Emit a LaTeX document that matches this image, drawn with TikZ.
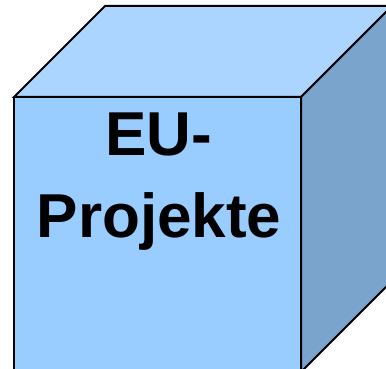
\documentclass[tikz,border=0pt]{standalone}
\usepackage{fontspec}
\setmainfont{Liberation Sans}
\definecolor{topc}{HTML}{ABD5FF}
\definecolor{frontc}{HTML}{99CCFF}
\definecolor{sidec}{HTML}{7BA4CC}
\begin{document}
\begin{tikzpicture}[x=1pt,y=-1pt,
  face/.style={draw=black,line width=2pt,line join=miter}]
\useasboundingbox (0,0) rectangle (386,369);
\clip (0,0) rectangle (386,369);
\coordinate (ftl) at (14,97);
\coordinate (ftr) at (301,97);
\coordinate (fbr) at (301,372);
\coordinate (fbl) at (14,372);
\coordinate (btl) at (105,6);
\coordinate (btr) at (392,6);
\coordinate (bbr) at (392,281);
\fill[topc] (ftl) -- (btl) -- (btr) -- (ftr) -- cycle;
\draw[face] (ftl) -- (btl) -- (btr) -- (ftr) -- cycle;
\fill[sidec] (ftr) -- (btr) -- (bbr) -- (fbr) -- cycle;
\draw[face] (ftr) -- (btr) -- (bbr) -- (fbr) -- cycle;
\fill[frontc] (ftl) rectangle (fbr);
\draw[face] (ftl) rectangle (fbr);
\node[font=\bfseries\fontsize{62}{82}\selectfont,align=center,anchor=base,inner sep=0pt] (label) at (159,237) {EU-\\Projekte};
\end{tikzpicture}
\end{document}
